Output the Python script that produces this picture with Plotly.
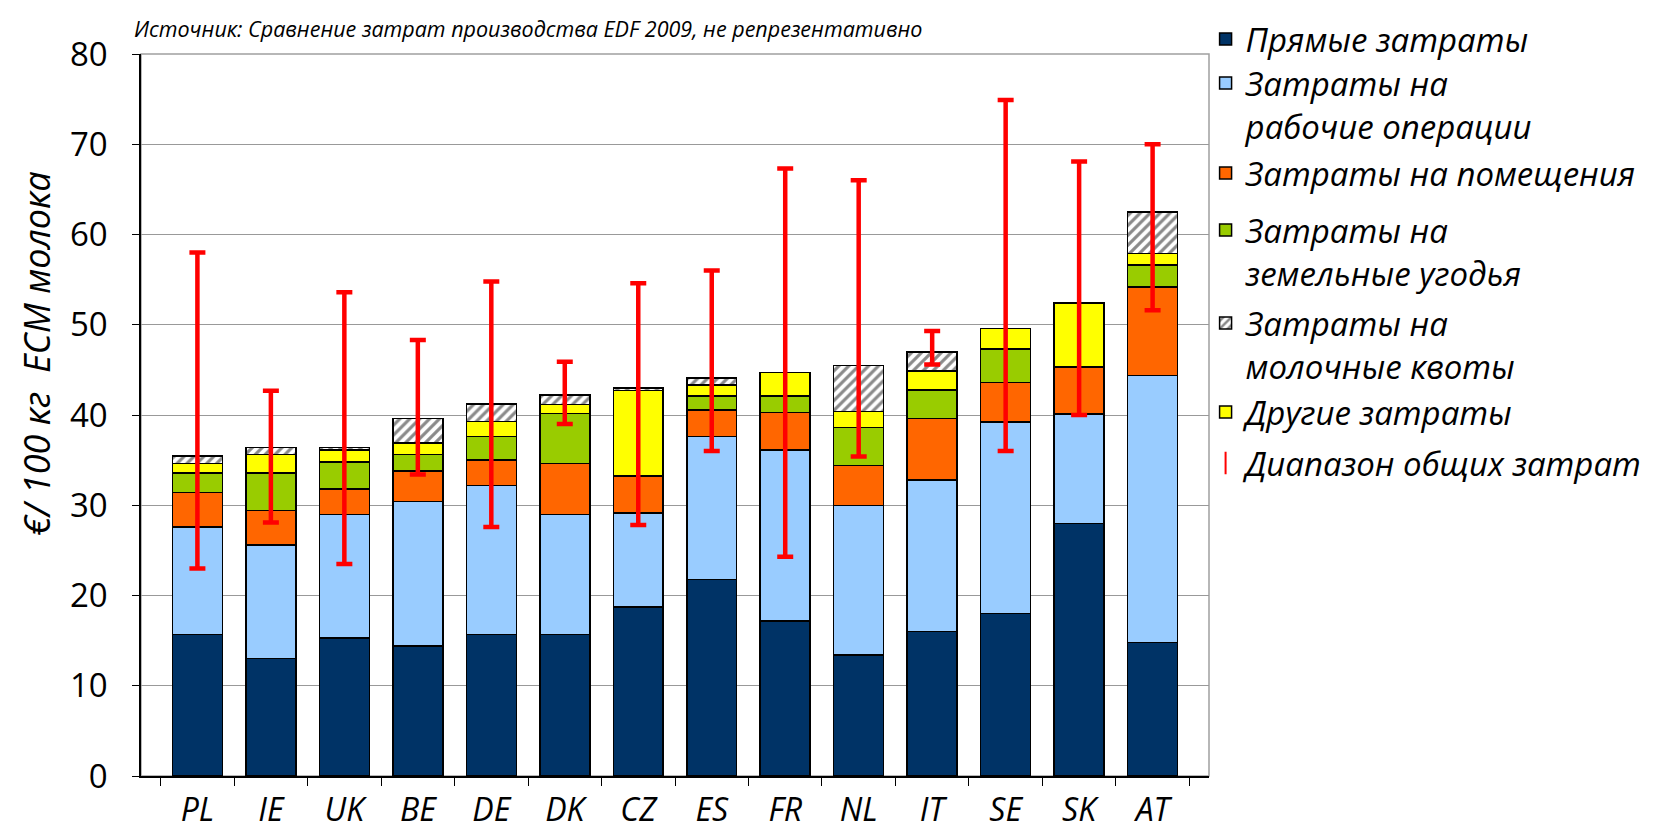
import plotly.graph_objects as go

countries = ["PL", "IE", "UK", "BE", "DE", "DK", "CZ", "ES", "FR", "NL", "IT", "SE", "SK", "AT"]

direct =     [15.7, 13.0, 15.3, 14.4, 15.7, 15.7, 18.7, 21.8, 17.2, 13.4, 16.0, 18.0, 28.0, 14.8]
operations = [11.9, 12.6, 13.7, 16.0, 16.5, 13.3, 10.45, 15.8, 18.95, 16.6, 16.8, 21.2, 12.1, 29.6]
buildings =  [3.8, 3.8, 2.8, 3.4, 2.8, 5.6, 4.05, 2.95, 4.15, 4.4, 6.8, 4.4, 5.15, 9.8]
land =       [2.2, 4.2, 3.0, 1.8, 2.6, 5.55, 0.1, 1.55, 1.8, 4.2, 3.15, 3.7, 0.15, 2.4]
other =      [1.0, 2.0, 1.3, 1.3, 1.7, 1.0, 9.4, 1.2, 2.6, 1.8, 2.1, 2.3, 7.0, 1.3]
quota =      [0.85, 0.8, 0.3, 2.7, 1.9, 1.05, 0.3, 0.8, None, 5.1, 2.15, None, None, 4.6]

range_low =  [23.0, 28.1, 23.5, 33.4, 27.6, 39.0, 27.8, 36.0, 24.3, 35.4, 45.6, 36.0, 40.0, 51.6]
range_high = [58.0, 42.7, 53.6, 48.3, 54.8, 45.9, 54.6, 56.0, 67.3, 66.0, 49.3, 74.9, 68.1, 70.0]

names = {
    "direct": "Прямые затраты",
    "operations": "Затраты на<br>рабочие операции",
    "buildings": "Затраты на помещения",
    "land": "Затраты на<br>земельные угодья",
    "quota": "Затраты на<br>молочные квоты",
    "other": "Другие затраты",
    "range": "Диапазон общих затрат",
}

FONT = "Open Sans"
line = dict(color="black", width=1.5)

# each legend entry sits in its own legend box (vertical position, paper units)
legend_y = {
    "legend": 1.0596, "legend2": 0.9986, "legend3": 0.8740, "legend4": 0.7950,
    "legend5": 0.6662, "legend6": 0.5430, "legend7": 0.4723,
}

fig = go.Figure()

series = [
    ("direct", direct, "#003366", "legend"),
    ("operations", operations, "#99CCFF", "legend2"),
    ("buildings", buildings, "#FF6600", "legend3"),
    ("land", land, "#99CC00", "legend4"),
    ("other", other, "#FFFF00", "legend6"),
]
for key, vals, col, lg in series:
    fig.add_trace(go.Bar(
        x=countries, y=vals, name=names[key],
        marker=dict(color=col, line=line), legend=lg,
    ))

fig.add_trace(go.Bar(
    x=countries, y=quota, name=names["quota"],
    marker=dict(color="white", line=line,
                pattern=dict(shape="/", fgcolor="#8a8a8a", bgcolor="white",
                             size=7, solidity=0.45, fillmode="replace")),
    legend="legend5",
))

# range error bars
err_plus = [0 for _ in countries]
err_minus = [h - l for h, l in zip(range_high, range_low)]
fig.add_trace(go.Scatter(
    x=countries, y=range_high, mode="markers",
    marker=dict(size=1, color="rgba(0,0,0,0)"),
    error_y=dict(type="data", symmetric=False, array=err_plus, arrayminus=err_minus,
                 color="#FF0000", thickness=4.5, width=8),
    showlegend=False, hoverinfo="skip",
))

# legend entry for the range
fig.add_trace(go.Scatter(
    x=[None], y=[None], mode="markers", name=names["range"],
    marker=dict(symbol="line-ns-open", size=16, color="#FF0000",
                line=dict(color="#FF0000", width=2)),
    legend="legend7",
))

fig.add_shape(type="rect", xref="paper", yref="paper", x0=0, x1=1, y0=0, y1=1,
              line=dict(color="#A0A0A0", width=1.5), layer="below")

fig.add_annotation(
    text="Источник: Сравнение затрат производства EDF 2009, не репрезентативно",
    xref="paper", yref="paper", x=-0.008, y=1.035, xanchor="left", yanchor="middle",
    showarrow=False, font=dict(family=FONT, size=21.5, color="black", style="italic"),
)

fig.add_annotation(
    text="€/ 100 кг\u00a0 ECM молока",
    xref="paper", yref="paper", x=-0.098, y=0.585, xanchor="center", yanchor="middle",
    textangle=-90, showarrow=False,
    font=dict(family=FONT, size=36, color="black", style="italic"),
)

legend_font = dict(family=FONT, size=33, color="black", style="italic")
legend_layouts = {
    name: dict(x=0.9968, y=yv, xanchor="left", yanchor="top", valign="top",
               font=legend_font, bgcolor="rgba(0,0,0,0)")
    for name, yv in legend_y.items()
}

fig.update_layout(
    width=1656, height=828,
    barmode="stack", bargap=0.32,
    paper_bgcolor="white", plot_bgcolor="white",
    margin=dict(l=133, r=455, t=46, b=60, autoexpand=False),
    showlegend=True,
    **legend_layouts,
    xaxis=dict(
        showline=True, linecolor="black", linewidth=1.5, automargin=False,
        ticks="outside", tickson="boundaries", ticklen=8, tickcolor="black",
        showgrid=False, ticklabelstandoff=5,
        tickfont=dict(family=FONT, size=32, color="black", style="italic"),
    ),
    yaxis=dict(
        range=[0, 80], dtick=10, showline=True, linecolor="black", linewidth=1.5,
        automargin=False,
        ticks="outside", ticklen=7, tickcolor="black",
        showgrid=True, gridcolor="#999999", gridwidth=1,
        ticklabelstandoff=18,
        tickfont=dict(family=FONT, size=33, color="black"),
        zeroline=False,
    ),
)

fig.write_html("out.html")
